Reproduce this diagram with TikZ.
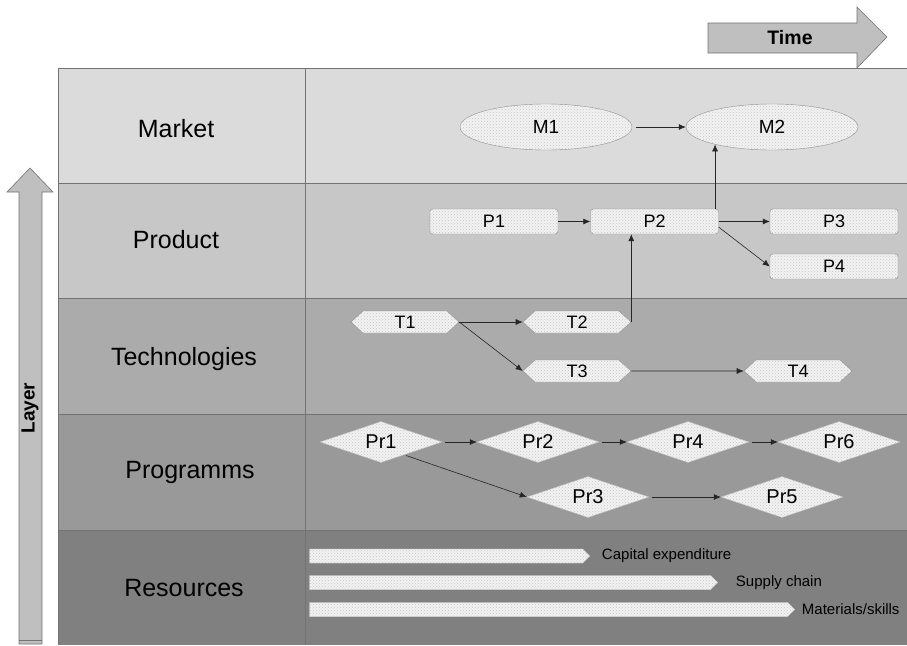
\documentclass[tikz,border=0pt]{standalone}
\usepackage{fontspec}
\setmainfont{Liberation Sans}
\usetikzlibrary{shapes.geometric, shapes.symbols, positioning, arrows.meta, patterns}

\begin{document}
\begin{tikzpicture}[x=1pt, y=-1pt, >={Latex[length=7pt,width=6pt]},
    grid/.style={draw=black!55, line width=1pt},
    bigarrow/.style={fill=black!25, draw=black!55, line width=0.6pt},
    lbl/.style={font=\fontsize{25}{29}\selectfont},
    stipple/.style={fill=black!5, postaction={pattern=crosshatch dots, pattern color=black!22}},
    mkt/.style={ellipse, stipple, draw=black!45, minimum width=172pt, minimum height=46pt, font=\fontsize{19}{22}\selectfont},
    prod/.style={rectangle, rounded corners=3pt, stipple, draw=black!45, minimum width=128pt, minimum height=25pt, inner sep=0pt, font=\fontsize{18}{21}\selectfont},
    tech/.style={signal, signal to=east and west, signal pointer angle=85, stipple, draw=black!45, minimum width=108pt, minimum height=22pt, inner sep=0pt, font=\fontsize{18}{21}\selectfont},
    prog/.style={diamond, aspect=3, stipple, draw=black!25, minimum width=122pt, minimum height=41pt, inner sep=0pt, font=\fontsize{20}{23}\selectfont},
    res/.style={signal, signal to=east, signal pointer angle=90, stipple, draw=black!15, minimum height=14pt, inner sep=0pt},
    reslbl/.style={inner sep=0pt, font=\fontsize{15}{18}\selectfont},
    link/.style={->, black!85, line width=0.6pt}]
\useasboundingbox (0,0) rectangle (907,645);

% layers
\fill[black!14] (58,68) rectangle (907,183);
\fill[black!22] (58,183) rectangle (907,298);
\fill[black!33] (58,298) rectangle (907,414);
\fill[black!40] (58,414) rectangle (907,530);
\fill[black!50] (58,530) rectangle (907,645);
\foreach \y in {68,183,298,414,530}
    \draw[grid] (58,\y) -- (907,\y);
\draw[grid] (58,68) -- (58,645);
\draw[grid] (305,68) -- (305,645);

\node[lbl] (lblMarket) at (176,129) {Market};
\node[lbl] (lblProduct) at (176,240) {Product};
\node[lbl] (lblTech) at (184,359) {Technologies};
\node[lbl] (lblProg) at (190,472) {Programms};
\node[lbl] (lblRes) at (184,588) {Resources};

% time and layer arrows
\draw[bigarrow] (708,23) -- (857,23) -- (857,7) -- (887,37) -- (857,68) -- (857,53) -- (708,53) -- cycle;
\node[font=\bfseries\fontsize{19.5}{22}\selectfont] (time) at (790,38) {Time};
\draw[bigarrow] (19,644) -- (19,192) -- (7,192) -- (30,168) -- (53,192) -- (42,192) -- (42,644) -- cycle;
\draw[black!55] (19,640) -- (42,640);
\node[rotate=90, font=\bfseries\fontsize{19}{22}\selectfont] (layer) at (30,408) {Layer};

% market
\node[mkt] (M1) at (546,127) {M1};
\node[mkt] (M2) at (772,127) {M2};

% product
\node[prod] (P1) at (494,221.5) {P1};
\node[prod] (P2) at (654.5,221.5) {P2};
\node[prod] (P3) at (834,221.5) {P3};
\node[prod] (P4) at (834,266.5) {P4};

% technologies
\node[tech] (T1) at (405,322) {T1};
\node[tech] (T2) at (577,322) {T2};
\node[tech] (T3) at (577,371) {T3};
\node[tech] (T4) at (798,371) {T4};

% programms
\node[prog] (Pr1) at (381,442) {Pr1};
\node[prog] (Pr2) at (538,442) {Pr2};
\node[prog] (Pr4) at (688,442) {Pr4};
\node[prog] (Pr6) at (839,442) {Pr6};
\node[prog] (Pr3) at (588,497) {Pr3};
\node[prog] (Pr5) at (782,497) {Pr5};

% resources
\node[res, minimum width=280pt] (capex) at (446,556) {};
\node[res, minimum width=408pt] (supply) at (510,582.5) {};
\node[res, minimum width=485pt] (skills) at (548.5,609.5) {};
\node[reslbl, right=12pt of capex] (capexlbl) {Capital expenditure};
\node[reslbl, right=18pt of supply] (supplylbl) {Supply chain};
\node[reslbl, right=7pt of skills] (skillslbl) {Materials/skills};

% links
\draw[link, shorten <=4pt] (M1) -- (M2);
\draw[link] (P2.north east -| M2.197.5) -- (M2.197.5);
\draw[link] (P1) -- (P2);
\draw[link] (P2) -- (P3);
\draw[link] (P2.-5) -- (P4.west);
\draw[link] (T2.east) -- (T2.east |- P2.south);
\draw[link] (T1.east) -- (T2.west);
\draw[link] (T1.east) -- (T3.west);
\draw[link] (T3) -- (T4);
\draw[link, shorten <=3pt] (Pr1) -- (Pr2);
\draw[link, shorten <=3pt] (Pr2) -- (Pr4);
\draw[link, shorten <=3pt] (Pr4) -- (Pr6);
\draw[link, shorten <=2pt] (Pr1.-29) -- (Pr3.west);
\draw[link, shorten <=3pt] (Pr3) -- (Pr5);
\end{tikzpicture}
\end{document}
